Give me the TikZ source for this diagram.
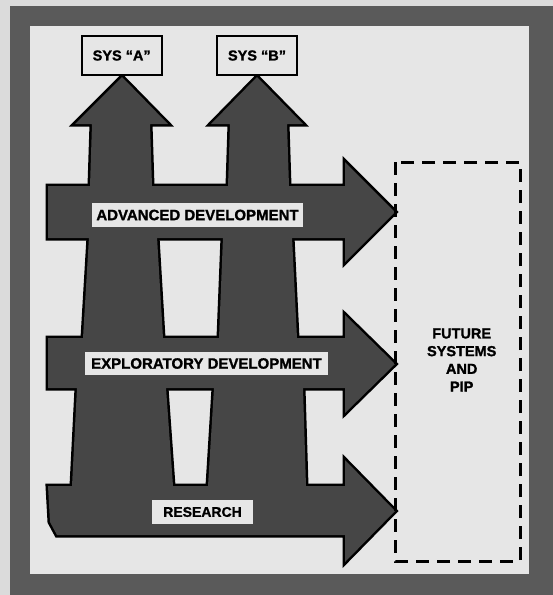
\documentclass[tikz,border=0pt]{standalone}
\usepackage{fontspec}
\setmainfont{Liberation Sans}[BoldFeatures={FakeBold=1.3}]
\definecolor{arrowgray}{HTML}{464646}
\definecolor{framegray}{HTML}{5A5A5A}
\definecolor{bglight}{HTML}{E6E6E6}
\begin{document}
\begin{tikzpicture}[x=1pt,y=-1pt,
  outline/.style={draw=black,line width=5pt,line join=miter},
  shade/.style={fill=arrowgray},
  advshape/.style={insert path={(48,186) -- (345,186) -- (345,162) -- (395,212) -- (345,262) -- (345,238) -- (48,238) -- cycle}},
  explshape/.style={insert path={(48,338) -- (345,338) -- (345,315) -- (395,364) -- (345,413) -- (345,388) -- (48,388) -- cycle}},
  resshape/.style={insert path={(48,486) -- (345,486) -- (345,460) -- (395,511) -- (345,562) -- (345,535) -- (57,535) -- (50,522) -- cycle}},
  shaftA/.style={insert path={(92,124) -- (75,124) -- (122,77) -- (168,124) -- (150,124) -- (152,186) -- (157,237) -- (163,338) -- (166,388) -- (173,486) -- (173,520) -- (72,520) -- (72,486) -- (77,388) -- (83,338) -- (89,237) -- (90,186) -- cycle}},
  shaftB/.style={insert path={(230,124) -- (211,124) -- (257,77) -- (303,124) -- (287,124) -- (289,186) -- (292,237) -- (297,338) -- (303,388) -- (306,486) -- (306,520) -- (208,520) -- (208,486) -- (214,388) -- (219,338) -- (223,237) -- (228,186) -- cycle}},
  lab/.style={fill=bglight,inner sep=0pt,font=\bfseries\fontsize{15}{15}\selectfont},
  sysbox/.style={draw=black,line width=2pt,fill=bglight,inner sep=0pt,minimum width=80pt,minimum height=39pt,font=\bfseries\fontsize{14.5}{14.5}\selectfont},
  futbox/.style={draw=black,line width=3pt,dash pattern=on 13pt off 8pt}
]
\useasboundingbox (0,0) rectangle (553,595);
% frame
\fill[bglight!95!black] (0,0) rectangle (553,595);
\fill[framegray] (10,6) rectangle (553,595);
\fill[bglight] (30,26) rectangle (529,574);
% block arrows: outlines first, then fills (hides internal edges)
\draw[outline,advshape];
\draw[outline,explshape];
\draw[outline,resshape];
\draw[outline,shaftA];
\draw[outline,shaftB];
\fill[shade,advshape];
\fill[shade,explshape];
\fill[shade,resshape];
\fill[shade,shaftA];
\fill[shade,shaftB];
% labels
\node[lab,minimum width=211pt,minimum height=24pt] (adv) at (197.5,215) {ADVANCED DEVELOPMENT};
\node[lab,minimum width=243pt,minimum height=23pt] (expl) at (206.5,363.5) {EXPLORATORY DEVELOPMENT};
\node[lab,minimum width=101pt,minimum height=24pt,font=\bfseries\fontsize{14}{14}\selectfont] (res) at (202.5,512) {RESEARCH};
% system boxes
\node[sysbox] (sysA) at (121.7,55.5) {SYS “A”};
\node[sysbox] (sysB) at (257,55.5) {SYS “B”};
% future systems box
\draw[futbox] (395,162) rectangle (520,561);
\node[align=center,font=\bfseries\fontsize{14.5}{17.7}\selectfont] (fut) at (461.7,360) {FUTURE\\SYSTEMS\\AND\\PIP};
\end{tikzpicture}
\end{document}
